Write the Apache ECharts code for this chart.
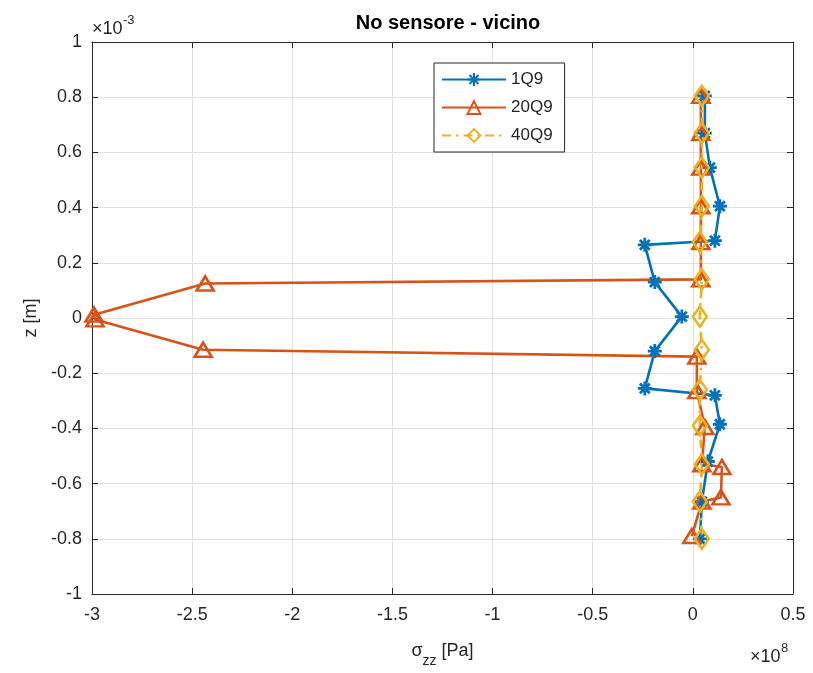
<!DOCTYPE html>
<html>
<head>
<meta charset="utf-8">
<script src="https://cdn.jsdelivr.net/npm/echarts@6/dist/echarts.min.js"></script>
<style>
  html, body { margin: 0; padding: 0; background: #fff; }
  #chart { width: 813px; height: 673px; }
</style>
</head>
<body>
<div id="chart"></div>
<script>
// sigma_zz in units of 1e8 Pa, z in units of 1e-3 m
const sigma1Q9 = [0.06, 0.06, 0.085, 0.135, 0.11, -0.24, -0.19, -0.055, -0.19, -0.24, 0.11, 0.135, 0.075, 0.045, 0.035];
const z1Q9     = [0.805, 0.67, 0.545, 0.405, 0.28, 0.265, 0.13, 0.005, -0.12, -0.255, -0.28, -0.385, -0.52, -0.665, -0.80];

const sigma20Q9 = [0.04, 0.04, 0.04, 0.04, 0.04, 0.04, -2.435, -2.99, -2.985, -2.445, 0.02, 0.02, 0.06, 0.045, 0.145, 0.14, 0.045, -0.005];
const z20Q9     = [0.805, 0.67, 0.545, 0.405, 0.275, 0.14, 0.125, 0.012, -0.005, -0.115, -0.14, -0.265, -0.395, -0.53, -0.54, -0.65, -0.665, -0.79];

const sigma40Q9 = [0.045, 0.045, 0.045, 0.045, 0.035, 0.045, 0.035, 0.045, 0.035, 0.035, 0.045, 0.035, 0.045];
const z40Q9     = [0.805, 0.67, 0.545, 0.405, 0.275, 0.14, 0.005, -0.115, -0.26, -0.39, -0.53, -0.665, -0.80];

const seriesNames = ['1Q9', '20Q9', '40Q9'];
const xTicks = { min: -3, max: 0.5, interval: 0.5 };
const yTicks = { min: -1, max: 1, interval: 0.2 };

const pairs = (xs, ys) => xs.map((x, i) => [x, ys[i]]);

const FONT = 'Liberation Sans, Arial, Helvetica, sans-serif';
const TXT = '#262626';
const GRID = '#e0e0e0';

// eight-armed asterisk marker drawn as strokes
const asterisk = 'path://M0,-10L0,10M-10,0L10,0M-7,-7L7,7M-7,7L7,-7';

const chart = echarts.init(document.getElementById('chart'), null, { renderer: 'canvas' });

const baseAxis = {
  axisLine: { show: true, onZero: false, lineStyle: { color: TXT, width: 1 } },
  axisTick: { show: true, inside: true, length: 6, lineStyle: { color: TXT, width: 1 } },
  axisLabel: { show: true, color: TXT, fontFamily: FONT, fontSize: 18 },
  splitLine: { show: true, lineStyle: { color: GRID, width: 1 } }
};

chart.setOption({
  animation: false,
  backgroundColor: '#fff',
  title: {
    text: 'No sensore - vicino',
    left: 443, top: 8, textAlign: 'center',
    textStyle: { fontFamily: FONT, fontSize: 20, fontWeight: 'bold', color: '#000' }
  },
  grid: { left: 92, right: 20, top: 42, bottom: 78, containLabel: false },
  legend: {
    data: seriesNames,
    orient: 'vertical',
    left: 434, top: 63,
    padding: [8, 12, 8, 7],
    itemWidth: 64, itemHeight: 16, itemGap: 11,
    borderColor: '#262626', borderWidth: 1, backgroundColor: '#fff',
    textStyle: { fontFamily: FONT, fontSize: 17, color: TXT }
  },
  xAxis: [
    Object.assign({}, baseAxis, {
      type: 'value', position: 'bottom',
      min: xTicks.min, max: xTicks.max, interval: xTicks.interval,
      axisLabel: Object.assign({}, baseAxis.axisLabel, { margin: 12 }),
      name: '{s|σ}{sub|zz}{t| [Pa]}',
      nameLocation: 'middle', nameGap: 48,
      nameTextStyle: {
        fontFamily: FONT, color: TXT,
        rich: {
          s: { fontFamily: FONT, fontSize: 18, color: TXT, lineHeight: 26, verticalAlign: 'top' },
          sub: { fontFamily: FONT, fontSize: 14, color: TXT, lineHeight: 26, verticalAlign: 'bottom' },
          t: { fontFamily: FONT, fontSize: 18, color: TXT, lineHeight: 26, verticalAlign: 'top' }
        }
      }
    }),
    Object.assign({}, baseAxis, {
      type: 'value', position: 'top',
      min: xTicks.min, max: xTicks.max, interval: xTicks.interval,
      axisLabel: { show: false }, splitLine: { show: false }
    })
  ],
  yAxis: [
    Object.assign({}, baseAxis, {
      type: 'value', position: 'left',
      min: yTicks.min, max: yTicks.max, interval: yTicks.interval,
      axisLabel: Object.assign({}, baseAxis.axisLabel, { margin: 10 }),
      name: 'z [m]', nameLocation: 'middle', nameGap: 40, nameRotate: 90,
      nameTextStyle: { fontFamily: FONT, fontSize: 18, color: TXT }
    }),
    Object.assign({}, baseAxis, {
      type: 'value', position: 'right',
      min: yTicks.min, max: yTicks.max, interval: yTicks.interval,
      axisLabel: { show: false }, splitLine: { show: false }
    })
  ],
  graphic: [
    { type: 'text', left: 92, top: 20, style: { text: '×10', font: '18px ' + FONT, fill: TXT } },
    { type: 'text', left: 123, top: 14, style: { text: '-3', font: '13px ' + FONT, fill: TXT } },
    { type: 'text', left: 750, top: 648, style: { text: '×10', font: '18px ' + FONT, fill: TXT } },
    { type: 'text', left: 781, top: 642, style: { text: '8', font: '13px ' + FONT, fill: TXT } }
  ],
  series: [
    {
      name: seriesNames[0], type: 'line', data: pairs(sigma1Q9, z1Q9),
      symbol: asterisk, symbolSize: 14, showAllSymbol: true,
      lineStyle: { color: '#0072BD', width: 2.6 },
      itemStyle: { color: 'rgba(0,0,0,0)', borderColor: '#0072BD', borderWidth: 2.8 },
      emphasis: { disabled: true }
    },
    {
      name: seriesNames[1], type: 'line', data: pairs(sigma20Q9, z20Q9),
      symbol: 'triangle', symbolSize: [17, 14], showAllSymbol: true,
      lineStyle: { color: '#D95319', width: 2.6 },
      itemStyle: { color: 'rgba(255,255,255,0)', borderColor: '#D95319', borderWidth: 2.6 },
      emphasis: { disabled: true }
    },
    {
      name: seriesNames[2], type: 'line', data: pairs(sigma40Q9, z40Q9),
      symbol: 'diamond', symbolSize: [14, 20], showAllSymbol: true,
      lineStyle: { color: '#EDB120', width: 2.6, type: [9, 5, 2.5, 5] },
      itemStyle: { color: 'rgba(255,255,255,0)', borderColor: '#EDB120', borderWidth: 2.6 },
      emphasis: { disabled: true }
    }
  ]
});
</script>
</body>
</html>
